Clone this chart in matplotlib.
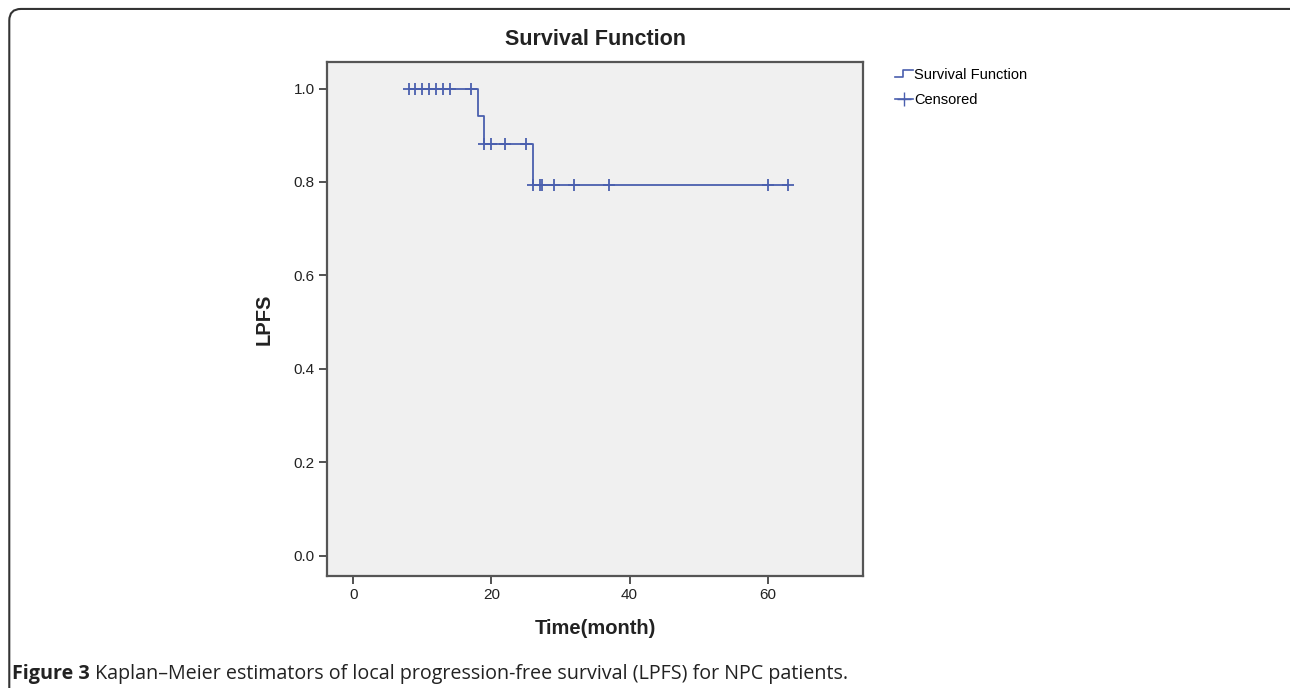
import numpy as np
import matplotlib
matplotlib.use("Agg")
import matplotlib.pyplot as plt
from matplotlib import font_manager
from matplotlib.legend_handler import HandlerBase
from matplotlib.lines import Line2D
from matplotlib.patches import FancyBboxPatch

# Kaplan-Meier step data (time in months, LPFS)
step_times = [8, 18, 19, 26, 63]
step_surv = [1.0, 0.941, 0.882, 0.794, 0.794]
censor_times = [8, 9, 10, 11, 12, 13, 14, 17, 19, 20, 22, 25, 26, 27, 27.3, 29, 32, 37, 60, 63]

x_ticks = [0, 20, 40, 60]
y_ticks = [0.0, 0.2, 0.4, 0.6, 0.8, 1.0]

title = "Survival Function"
x_label = "Time(month)"
y_label = "LPFS"
legend_labels = ["Survival Function", "Censored"]
caption_bold = "Figure 3"
caption_text = " Kaplan\u2013Meier estimators of local progression-free survival (LPFS) for NPC patients."

blue = "#4a5fae"
installed = {f.name for f in font_manager.fontManager.ttflist}
narrow = [f for f in ["Liberation Sans Narrow", "DejaVu Sans Condensed", "Liberation Sans"] if f in installed]
narrow.append("DejaVu Sans")


class StepHandler(HandlerBase):
    def create_artists(self, legend, orig_handle, xdescent, ydescent, width, height, fontsize, trans):
        x0, x1 = -xdescent, -xdescent + width
        ym_lo = -ydescent + height * 0.2
        ym_hi = -ydescent + height * 0.85
        xs = [x0, x0 + width * 0.45, x0 + width * 0.45, x1]
        ys = [ym_lo, ym_lo, ym_hi, ym_hi]
        line = Line2D(xs, ys, color=blue, lw=1.2, transform=trans)
        return [line]


def surv_at(t):
    idx = np.searchsorted(step_times, t, side="right") - 1
    return step_surv[max(idx, 0)]


fig = plt.figure(figsize=(12.9, 6.88), dpi=100)
ax = fig.add_axes([0.2535, 0.163, 0.4155, 0.747])
ax.set_facecolor("#f0f0f0")

ax.step(step_times, step_surv, where="post", color=blue, lw=1.3)
censor_y = [surv_at(t) for t in censor_times]
ax.plot(censor_times, censor_y, linestyle="none", marker="+", markersize=8,
        markeredgewidth=1.3, color=blue)

ax.set_xlim(-3.8, 73.8)
ax.set_ylim(-0.043, 1.057)
ax.set_xticks(x_ticks)
ax.set_yticks(y_ticks)
ax.set_yticklabels([f"{v:.1f}" for v in y_ticks])
ax.tick_params(direction="out", length=6, width=1.3, color="#444444",
               labelsize=11, labelcolor="#222222", pad=3)
for lab in ax.get_xticklabels() + ax.get_yticklabels():
    lab.set_family(narrow)
for sp in ax.spines.values():
    sp.set_color("#555555")
    sp.set_linewidth(1.6)

ax.set_title(title, fontsize=15.5, fontweight="bold", family=narrow, pad=12, color="#222222")
ax.set_xlabel(x_label, fontsize=14.5, fontweight="bold", family=narrow, labelpad=12, color="#222222")
ax.set_ylabel(y_label, fontsize=14.5, fontweight="bold", family=narrow, labelpad=14, color="#222222")

handles = [Line2D([], [], color=blue), Line2D([], [], color=blue, marker="+", markersize=10, lw=1.2)]
leg = fig.legend(handles, legend_labels, loc="upper left", bbox_to_anchor=(0.684, 0.92),
                 frameon=False, prop={"family": narrow, "size": 10.5},
                 handler_map={handles[0]: StepHandler()},
                 handlelength=1.2, handletextpad=0.1, labelspacing=0.75)

# outer rounded frame
frame = FancyBboxPatch((0.0072, -0.2), 1.05, 1.187, boxstyle="round,pad=0,rounding_size=0.009",
                       transform=fig.transFigure, fill=False, edgecolor="#333333", lw=1.5,
                       mutation_aspect=1290 / 688)
fig.patches.append(frame)

cap_font = ["Open Sans", "DejaVu Sans"]
cap = fig.text(0.0095, 0.013, caption_bold, fontsize=14.2, fontweight="bold", family=cap_font,
               color="#222222")
fig.canvas.draw()
bb = cap.get_window_extent()
fig.text(bb.x1 / fig.bbox.width, 0.013, caption_text, fontsize=14.2, family=cap_font,
         color="#222222")

fig.savefig("out.png", dpi=100)
